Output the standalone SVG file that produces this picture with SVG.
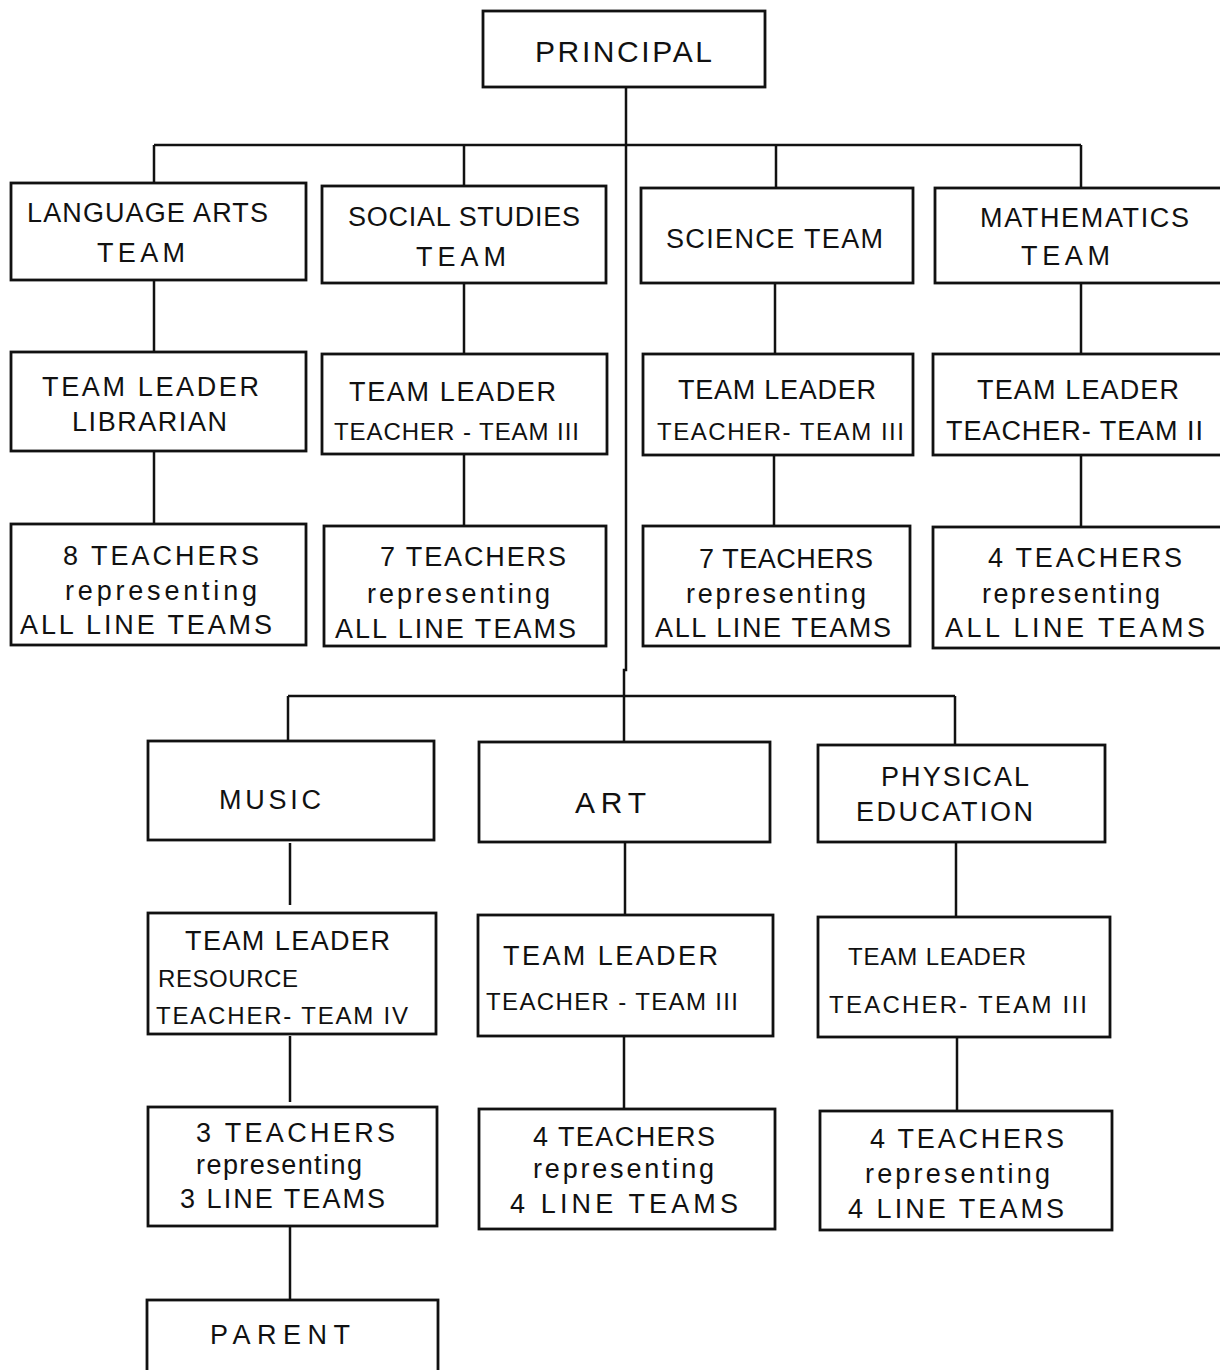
<svg xmlns="http://www.w3.org/2000/svg" width="1220" height="1370" viewBox="0 0 1220 1370">
  <style>
    .box { fill: none; stroke: #111; stroke-width: 2.8; }
    .wire { fill: none; stroke: #111; stroke-width: 2.5; }
    .t { font-family: "Liberation Sans", Arial, sans-serif; font-size: 27px; fill: #111; }
    .big { font-size: 30px; }
    .n { font-size: 24px; }
  </style>
  <rect width="1220" height="1370" fill="#fff"/>

  <!-- connectors -->
  <g id="connectors">
    <path class="wire" d="M626 87 V670 H624 V742"/>
    <path class="wire" d="M154 145 H1081"/>
    <path class="wire" d="M154 145 V183 M464 145 V186 M776 145 V187 M1081 145 V188"/>
    <path class="wire" d="M154 280 V352 M464 283 V354 M775 283 V354 M1081 283 V354"/>
    <path class="wire" d="M154 451 V524 M464 454 V526 M774 455 V526 M1081 455 V527"/>
    <path class="wire" d="M288 696 H955"/>
    <path class="wire" d="M288 696 V741 M955 696 V745"/>
    <path class="wire" d="M290 843 V905 M625 842 V915 M956 842 V917"/>
    <path class="wire" d="M290 1036 V1102 M624 1036 V1109 M957 1037 V1111"/>
    <path class="wire" d="M290 1226 V1300"/>
  </g>

  <g id="principal">
    <rect class="box" x="483" y="11" width="282" height="76"/>
    <text class="t big" x="535" y="62" textLength="177" lengthAdjust="spacing">PRINCIPAL</text>
  </g>

  <!-- subject teams -->
  <g id="language-arts-team">
    <rect class="box" x="11" y="183" width="295" height="97"/>
    <text class="t" x="27" y="222" textLength="241" lengthAdjust="spacing">LANGUAGE ARTS</text>
    <text class="t" x="97" y="262" textLength="88" lengthAdjust="spacing">TEAM</text>
  </g>
  <g id="social-studies-team">
    <rect class="box" x="322" y="186" width="284" height="97"/>
    <text class="t" x="348" y="226" textLength="232" lengthAdjust="spacing">SOCIAL STUDIES</text>
    <text class="t" x="416" y="266" textLength="90" lengthAdjust="spacing">TEAM</text>
  </g>
  <g id="science-team">
    <rect class="box" x="641" y="188" width="272" height="95"/>
    <text class="t" x="666" y="248" textLength="217" lengthAdjust="spacing">SCIENCE  TEAM</text>
  </g>
  <g id="mathematics-team">
    <rect class="box" x="935" y="188" width="300" height="95"/>
    <text class="t" x="980" y="227" textLength="209" lengthAdjust="spacing">MATHEMATICS</text>
    <text class="t" x="1021" y="265" textLength="89" lengthAdjust="spacing">TEAM</text>
  </g>

  <!-- team leaders -->
  <g id="language-arts-leader">
    <rect class="box" x="11" y="352" width="295" height="99"/>
    <text class="t" x="42" y="396" textLength="217" lengthAdjust="spacing">TEAM  LEADER</text>
    <text class="t" x="72" y="431" textLength="155" lengthAdjust="spacing">LIBRARIAN</text>
  </g>
  <g id="social-studies-leader">
    <rect class="box" x="322" y="354" width="285" height="100"/>
    <text class="t" x="349" y="401" textLength="207" lengthAdjust="spacing">TEAM LEADER</text>
    <text class="t n" x="334" y="440" textLength="245" lengthAdjust="spacing">TEACHER - TEAM III</text>
  </g>
  <g id="science-leader">
    <rect class="box" x="643" y="354" width="270" height="101"/>
    <text class="t" x="678" y="399" textLength="198" lengthAdjust="spacing">TEAM LEADER</text>
    <text class="t n" x="657" y="440" textLength="247" lengthAdjust="spacing">TEACHER- TEAM III</text>
  </g>
  <g id="mathematics-leader">
    <rect class="box" x="933" y="354" width="300" height="101"/>
    <text class="t" x="977" y="399" textLength="202" lengthAdjust="spacing">TEAM LEADER</text>
    <text class="t" x="946" y="440" textLength="257" lengthAdjust="spacing">TEACHER- TEAM II</text>
  </g>

  <!-- teacher groups -->
  <g id="language-arts-teachers">
    <rect class="box" x="11" y="524" width="295" height="121"/>
    <text class="t" x="63" y="565" textLength="196" lengthAdjust="spacing">8 TEACHERS</text>
    <text class="t" x="65" y="600" textLength="192" lengthAdjust="spacing">representing</text>
    <text class="t" x="20" y="634" textLength="252" lengthAdjust="spacing">ALL LINE TEAMS</text>
  </g>
  <g id="social-studies-teachers">
    <rect class="box" x="324" y="526" width="282" height="120"/>
    <text class="t" x="380" y="566" textLength="186" lengthAdjust="spacing">7  TEACHERS</text>
    <text class="t" x="367" y="603" textLength="183" lengthAdjust="spacing">representing</text>
    <text class="t" x="335" y="638" textLength="241" lengthAdjust="spacing">ALL  LINE  TEAMS</text>
  </g>
  <g id="science-teachers">
    <rect class="box" x="643" y="526" width="267" height="120"/>
    <text class="t" x="699" y="568" textLength="174" lengthAdjust="spacing">7 TEACHERS</text>
    <text class="t" x="686" y="603" textLength="180" lengthAdjust="spacing">representing</text>
    <text class="t" x="655" y="637" textLength="236" lengthAdjust="spacing">ALL  LINE TEAMS</text>
  </g>
  <g id="mathematics-teachers">
    <rect class="box" x="933" y="527" width="300" height="121"/>
    <text class="t" x="988" y="567" textLength="194" lengthAdjust="spacing">4  TEACHERS</text>
    <text class="t" x="982" y="603" textLength="178" lengthAdjust="spacing">representing</text>
    <text class="t" x="945" y="637" textLength="260" lengthAdjust="spacing">ALL LINE TEAMS</text>
  </g>

  <!-- special subjects -->
  <g id="music">
    <rect class="box" x="148" y="741" width="286" height="99"/>
    <text class="t" x="219" y="809" textLength="102" lengthAdjust="spacing">MUSIC</text>
  </g>
  <g id="art">
    <rect class="box" x="479" y="742" width="291" height="100"/>
    <text class="t big" x="575" y="813" textLength="71" lengthAdjust="spacing">ART</text>
  </g>
  <g id="physical-education">
    <rect class="box" x="818" y="745" width="287" height="97"/>
    <text class="t" x="881" y="786" textLength="148" lengthAdjust="spacing">PHYSICAL</text>
    <text class="t" x="856" y="821" textLength="177" lengthAdjust="spacing">EDUCATION</text>
  </g>

  <g id="music-leader">
    <rect class="box" x="148" y="913" width="288" height="121"/>
    <text class="t" x="185" y="950" textLength="205" lengthAdjust="spacing">TEAM LEADER</text>
    <text class="t n" x="158" y="987" textLength="140" lengthAdjust="spacing">RESOURCE</text>
    <text class="t n" x="156" y="1024" textLength="252" lengthAdjust="spacing">TEACHER- TEAM  IV</text>
  </g>
  <g id="art-leader">
    <rect class="box" x="478" y="915" width="295" height="121"/>
    <text class="t" x="503" y="965" textLength="215" lengthAdjust="spacing">TEAM  LEADER</text>
    <text class="t n" x="486" y="1010" textLength="252" lengthAdjust="spacing">TEACHER - TEAM III</text>
  </g>
  <g id="physical-education-leader">
    <rect class="box" x="818" y="917" width="292" height="120"/>
    <text class="t n" x="848" y="965" textLength="178" lengthAdjust="spacing">TEAM  LEADER</text>
    <text class="t n" x="829" y="1013" textLength="258" lengthAdjust="spacing">TEACHER- TEAM  III</text>
  </g>

  <g id="music-teachers">
    <rect class="box" x="148" y="1107" width="289" height="119"/>
    <text class="t" x="196" y="1142" textLength="199" lengthAdjust="spacing">3  TEACHERS</text>
    <text class="t" x="196" y="1174" textLength="166" lengthAdjust="spacing">representing</text>
    <text class="t" x="180" y="1208" textLength="205" lengthAdjust="spacing">3 LINE TEAMS</text>
  </g>
  <g id="art-teachers">
    <rect class="box" x="479" y="1109" width="296" height="120"/>
    <text class="t" x="533" y="1146" textLength="182" lengthAdjust="spacing">4 TEACHERS</text>
    <text class="t" x="533" y="1178" textLength="181" lengthAdjust="spacing">representing</text>
    <text class="t" x="510" y="1213" textLength="228" lengthAdjust="spacing">4 LINE TEAMS</text>
  </g>
  <g id="physical-education-teachers">
    <rect class="box" x="820" y="1111" width="292" height="119"/>
    <text class="t" x="870" y="1148" textLength="194" lengthAdjust="spacing">4  TEACHERS</text>
    <text class="t" x="865" y="1183" textLength="185" lengthAdjust="spacing">representing</text>
    <text class="t" x="848" y="1218" textLength="216" lengthAdjust="spacing">4  LINE TEAMS</text>
  </g>

  <g id="parent">
    <rect class="box" x="147" y="1300" width="291" height="100"/>
    <text class="t" x="210" y="1344" textLength="140" lengthAdjust="spacing">PARENT</text>
  </g>
</svg>
